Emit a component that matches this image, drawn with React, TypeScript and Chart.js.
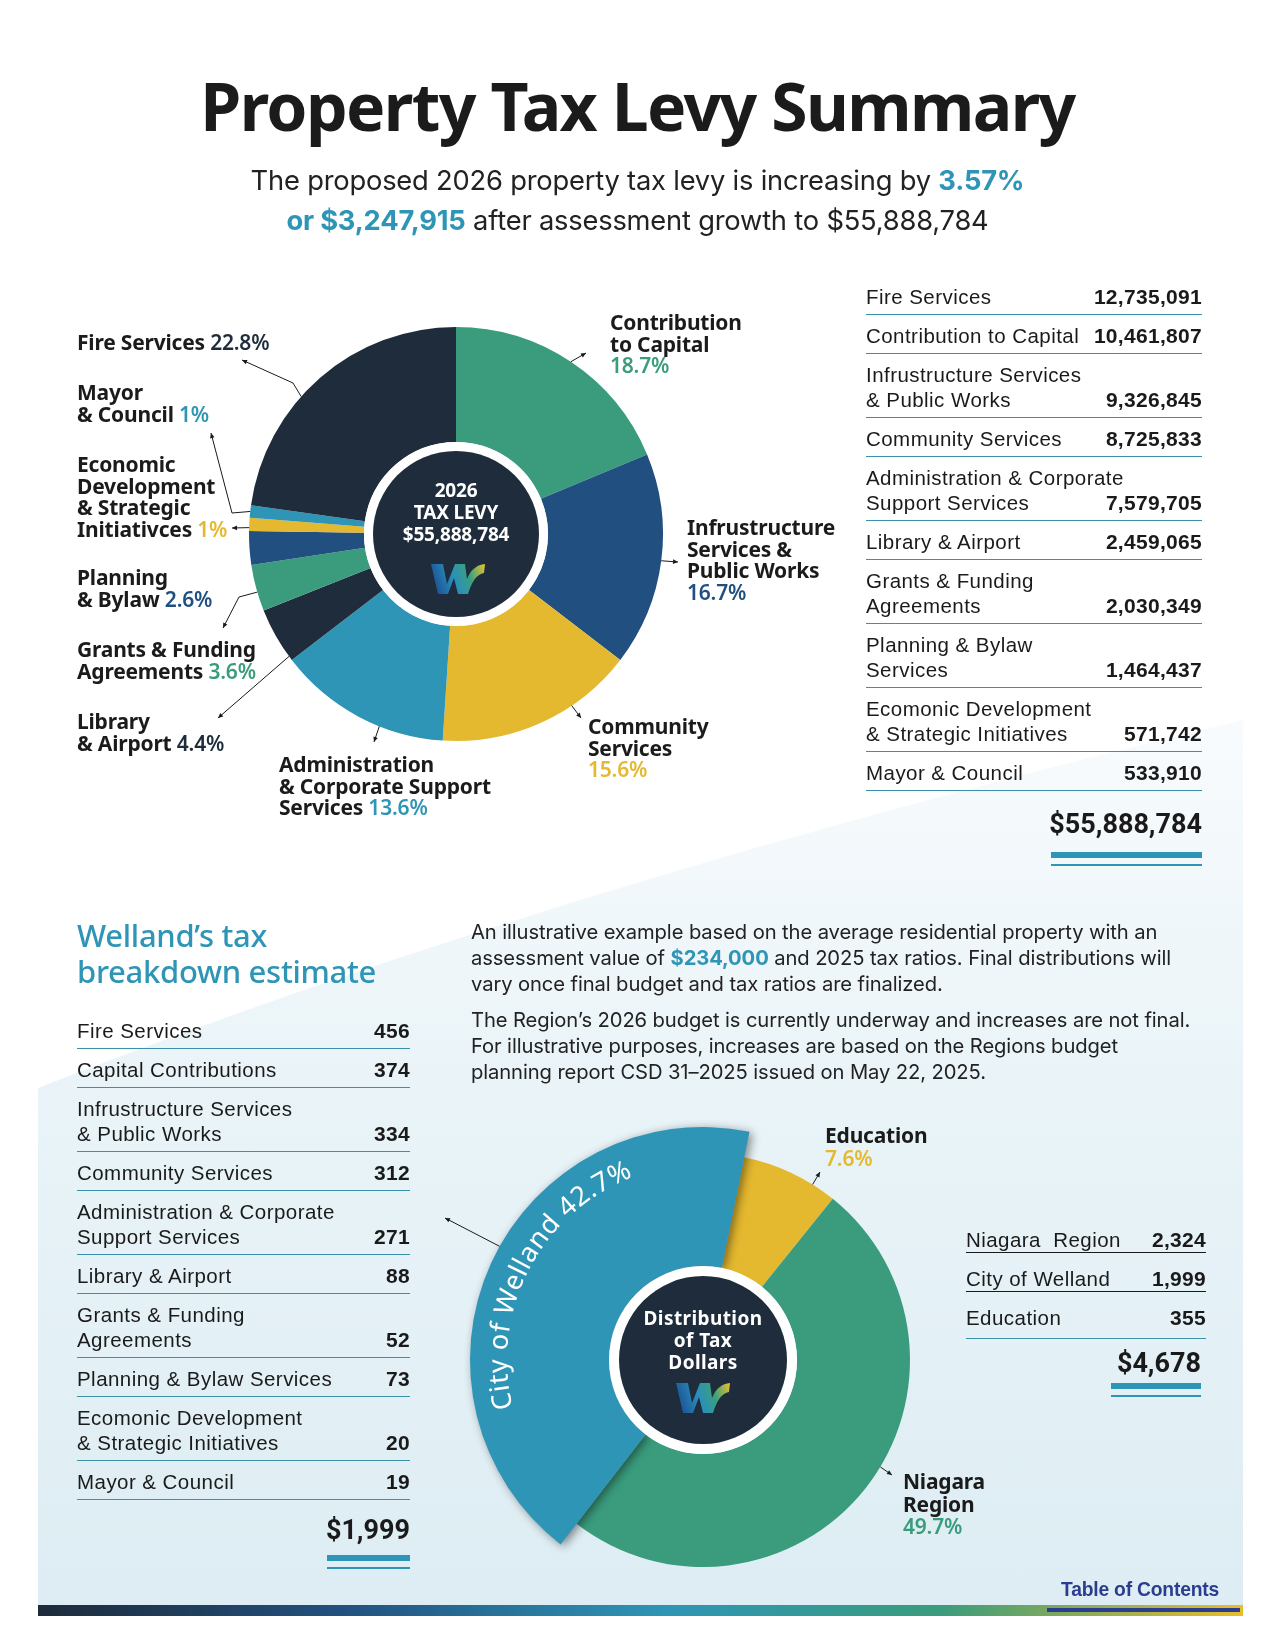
import React, { useEffect, useRef, useState } from "react";
import { Chart, registerables } from "chart.js";

Chart.register(...registerables);

// ---------------- data ----------------
const levyCategories = [
  "Contribution to Capital",
  "Infrastructure Services & Public Works",
  "Community Services",
  "Administration & Corporate Support Services",
  "Library & Airport",
  "Grants & Funding Agreements",
  "Planning & Bylaw",
  "Economic Development & Strategic Initiatives",
  "Mayor & Council",
  "Fire Services",
];
const levyValues = [10461807, 9326845, 8725833, 7579705, 2459065, 2030349, 1464437, 571742, 533910, 12735091];
const levyLabelLines = [
  ["Contribution", "to Capital"],
  ["Infrustructure", "Services &", "Public Works"],
  ["Community", "Services"],
  ["Administration", "& Corporate Support", "Services"],
  ["Library", "& Airport"],
  ["Grants & Funding", "Agreements"],
  ["Planning", "& Bylaw"],
  ["Economic", "Development", "& Strategic", "Initiativces"],
  ["Mayor", "& Council"],
  ["Fire Services"],
];

const levyTableLabels = [
  ["Fire Services"],
  ["Contribution to Capital"],
  ["Infrustructure Services", "& Public Works"],
  ["Community Services"],
  ["Administration & Corporate", "Support Services"],
  ["Library & Airport"],
  ["Grants & Funding", "Agreements"],
  ["Planning & Bylaw", "Services"],
  ["Ecomonic Development", "& Strategic Initiatives"],
  ["Mayor & Council"],
];
const levyTableValues = [12735091, 10461807, 9326845, 8725833, 7579705, 2459065, 2030349, 1464437, 571742, 533910];

const breakdownLabels = [
  ["Fire Services"],
  ["Capital Contributions"],
  ["Infrustructure Services", "& Public Works"],
  ["Community Services"],
  ["Administration & Corporate", "Support Services"],
  ["Library & Airport"],
  ["Grants & Funding", "Agreements"],
  ["Planning & Bylaw Services"],
  ["Ecomonic Development", "& Strategic Initiatives"],
  ["Mayor & Council"],
];
const breakdownValues = [456, 374, 334, 312, 271, 88, 52, 73, 20, 19];

const distCategories = ["Education", "Niagara Region", "City of Welland"];
const distValues = [355, 2324, 1999];
const distLabelLines = [["Education"], ["Niagara", "Region"], ["City of Welland"]];
const distTableLabels = ["Niagara\u00a0 Region", "City of Welland", "Education"];
const distTableValues = [2324, 1999, 355];

// ---------------- style / layout ----------------
const NAVY = "#1e2c3b";
const GREEN = "#3a9c7d";
const DBLUE = "#215080";
const YELLOW = "#e5b92f";
const TEAL = "#2f95b6";
const LINE = "#3a92aa";

const levyColors = [GREEN, DBLUE, YELLOW, TEAL, NAVY, GREEN, DBLUE, YELLOW, TEAL, NAVY];
const distColors = [YELLOW, GREEN, TEAL];

const W = 1275;
const H = 1650;
const TOP_C = { x: 456, y: 534, r: 207, ring: 92, core: 83 };
const BOT_C = { x: 703, y: 1360, r: 233, ring: 94, core: 84 };
const distRadii = [207, 207, 233];

const levyLabelLayout = [
  { left: 610, top: 312, inline: false },
  { left: 687, top: 517, inline: false },
  { left: 588, top: 716, inline: false },
  { left: 279, top: 754, inline: true },
  { left: 77, top: 711, inline: true },
  { left: 77, top: 639, inline: true },
  { left: 77, top: 567, inline: true },
  { left: 77, top: 454, inline: true },
  { left: 77, top: 382, inline: true },
  { left: 77, top: 332, inline: true },
];
const distLabelLayout = [
  { left: 825, top: 1124 },
  { left: 903, top: 1470 },
];

type Leader = { index: number; frac: number; pts: [number, number][] };
const levyLeaders: Leader[] = [
  { index: 0, frac: 0.5, pts: [[586, 353]] },
  { index: 1, frac: 0.5, pts: [[678, 562]] },
  { index: 2, frac: 0.33, pts: [[581, 718]] },
  { index: 3, frac: 0.37, pts: [[374, 742]] },
  { index: 4, frac: 0.08, pts: [[218, 718]] },
  { index: 5, frac: 0.41, pts: [[239, 597], [223, 628]] },
  { index: 7, frac: 0.25, pts: [[232, 528]] },
  { index: 8, frac: 0.5, pts: [[232, 513], [211, 433]] },
  { index: 9, frac: 0.41, pts: [[293, 383], [242, 360]] },
];
const distLeaders: Leader[] = [
  { index: 0, frac: 0.75, pts: [[820, 1172]] },
  { index: 1, frac: 0.46, pts: [[892, 1475]] },
  { index: 2, frac: 0.53, pts: [[445, 1218]] },
];

const sum = (a: number[]) => a.reduce((s, v) => s + v, 0);
const fmt = (n: number) => n.toLocaleString("en-US");
const fmtPct = (v: number, total: number) => {
  const r = Math.round((v / total) * 1000) / 10;
  return (Number.isInteger(r) ? r.toFixed(0) : r.toFixed(1)) + "%";
};

function overlayPlugin(id: string, ringR: number, coreR: number, leaders: Leader[], radii?: number[], shadowIndex?: number) {
  return {
    id,
    afterUpdate(chart: any) {
      if (!radii) return;
      const meta = chart.getDatasetMeta(0);
      meta.data.forEach((el: any, i: number) => {
        el.outerRadius = radii[i];
        if (i === shadowIndex && !el._shadowPatched) {
          const orig = el.draw.bind(el);
          el.draw = (ctx: CanvasRenderingContext2D, area: any) => {
            ctx.save();
            ctx.shadowColor = "rgba(0,0,0,0.45)";
            ctx.shadowBlur = 10;
            ctx.shadowOffsetX = 3;
            ctx.shadowOffsetY = 2;
            orig(ctx, area);
            ctx.restore();
          };
          el._shadowPatched = true;
        }
      });
    },
    afterDatasetsDraw(chart: any) {
      const ctx: CanvasRenderingContext2D = chart.ctx;
      const meta = chart.getDatasetMeta(0);
      const cx = meta.data[0].x;
      const cy = meta.data[0].y;
      ctx.save();
      ctx.fillStyle = "#ffffff";
      ctx.beginPath();
      ctx.arc(cx, cy, ringR, 0, Math.PI * 2);
      ctx.fill();
      ctx.fillStyle = NAVY;
      ctx.beginPath();
      ctx.arc(cx, cy, coreR, 0, Math.PI * 2);
      ctx.fill();
      ctx.strokeStyle = "#1a1a1a";
      ctx.fillStyle = "#1a1a1a";
      ctx.lineWidth = 1;
      leaders.forEach((ld) => {
        const el = meta.data[ld.index];
        const a = el.startAngle + (el.endAngle - el.startAngle) * ld.frac;
        const r = el.outerRadius;
        const sx = cx + r * Math.cos(a);
        const sy = cy + r * Math.sin(a);
        ctx.beginPath();
        ctx.moveTo(sx, sy);
        ld.pts.forEach((p) => ctx.lineTo(p[0], p[1]));
        ctx.stroke();
        const last = ld.pts[ld.pts.length - 1];
        const prev = ld.pts.length > 1 ? ld.pts[ld.pts.length - 2] : [sx, sy];
        const ang = Math.atan2(last[1] - prev[1], last[0] - prev[0]);
        const L = 5;
        const Wd = 2.3;
        ctx.beginPath();
        ctx.moveTo(last[0], last[1]);
        ctx.lineTo(last[0] - L * Math.cos(ang) + Wd * Math.sin(ang), last[1] - L * Math.sin(ang) - Wd * Math.cos(ang));
        ctx.lineTo(last[0] - L * Math.cos(ang) - Wd * Math.sin(ang), last[1] - L * Math.sin(ang) + Wd * Math.cos(ang));
        ctx.closePath();
        ctx.fill();
      });
      ctx.restore();
    },
  };
}

function Logo({ cx, cy, id }: { cx: number; cy: number; id: string }) {
  const w = 54;
  const h = 32;
  return (
    <svg style={{ position: "absolute", left: cx - w / 2, top: cy - h / 2 }} width={w} height={h} viewBox="0 0 54 32">
      <defs>
        <linearGradient id={id} x1="0" y1="0.2" x2="1" y2="0">
          <stop offset="0" stopColor="#1d5a9c" />
          <stop offset="0.35" stopColor="#2a8fba" />
          <stop offset="0.65" stopColor="#3aa080" />
          <stop offset="1" stopColor="#ecc22a" />
        </linearGradient>
      </defs>
      <path d="M0,1 L12,1 L16,21 L24,1 L34,1 L36,16 C40,6 46,2 54,1 L53,10 C46,11 41,18 37,31 L27,31 L23,15 L17,31 L7,31 Z" fill={`url(#${id})`} />
    </svg>
  );
}

type Row = { label: string[]; value: string; border?: string; padBottom?: number };
function ValueTable({ rows, left, top, width, padTop, padBottom, lineH }: { rows: Row[]; left: number; top: number; width: number; padTop: number; padBottom: number; lineH: number }) {
  return (
    <div style={{ position: "absolute", left, top, width }}>
      {rows.map((r, i) => (
        <div
          key={i}
          style={{
            display: "flex",
            justifyContent: "space-between",
            alignItems: "flex-end",
            paddingTop: padTop,
            paddingBottom: r.padBottom ?? padBottom,
            borderBottom: `1.5px solid ${r.border ?? LINE}`,
            lineHeight: `${lineH}px`,
          }}
        >
          <div style={{ flex: "1 1 0", minWidth: 0, fontFamily: '"Liberation Sans", Arial, sans-serif', fontSize: 20.5, letterSpacing: 0.45, color: "#1a1a1a", whiteSpace: "nowrap" }}>
            {r.label.map((l, j) => (
              <div key={j}>{l}</div>
            ))}
          </div>
          <div style={{ flexShrink: 0, fontFamily: '"Liberation Sans", Arial, sans-serif', fontWeight: 700, fontSize: 21, letterSpacing: 0.3, color: "#1a1a1a", whiteSpace: "nowrap" }}>{r.value}</div>
        </div>
      ))}
    </div>
  );
}

function Total({ text, right, cy, barTop, barW }: { text: string; right: number; cy: number; barTop: number; barW: number }) {
  return (
    <>
      <div style={{ position: "absolute", right: W - right, top: cy - 18, lineHeight: "36px", fontFamily: "Roboto, sans-serif", fontWeight: 700, fontSize: 27, color: "#1a1a1a", whiteSpace: "nowrap" }}>{text}</div>
      <div style={{ position: "absolute", left: right - barW, top: barTop, width: barW, height: 6, background: TEAL }} />
      <div style={{ position: "absolute", left: right - barW, top: barTop + 12, width: barW, height: 1.5, background: TEAL }} />
    </>
  );
}

const labelFont: React.CSSProperties = {
  fontFamily: '"Noto Sans", sans-serif',
  fontWeight: 700,
  fontSize: 21,
  lineHeight: "21.7px",
  color: "#1b1b1b",
  whiteSpace: "nowrap",
  position: "absolute",
  letterSpacing: -0.2,
};

export default function App() {
  const topRef = useRef<HTMLCanvasElement | null>(null);
  const botRef = useRef<HTMLCanvasElement | null>(null);
  const [arcGeo, setArcGeo] = useState<{ x: number; y: number; s: number; e: number; r: number } | null>(null);

  const levyTotal = sum(levyValues);
  const distTotal = sum(distValues);

  useEffect(() => {
    document.body.style.margin = "0";
    const top = new Chart(topRef.current as HTMLCanvasElement, {
      type: "doughnut",
      data: {
        labels: levyCategories,
        datasets: [{ data: levyValues, backgroundColor: levyColors, borderWidth: 0 }],
      },
      options: {
        animation: false,
        responsive: false,
        maintainAspectRatio: false,
        events: [],
        radius: TOP_C.r,
        cutout: `${(TOP_C.ring / TOP_C.r) * 100}%`,
        rotation: 0,
        layout: { padding: { left: 0, top: 0, right: W - 2 * TOP_C.x, bottom: H - 2 * TOP_C.y } },
        plugins: { legend: { display: false }, tooltip: { enabled: false } },
      } as any,
      plugins: [overlayPlugin("topOverlay", TOP_C.ring, TOP_C.core, levyLeaders) as any],
    });
    const bot = new Chart(botRef.current as HTMLCanvasElement, {
      type: "doughnut",
      data: {
        labels: distCategories,
        datasets: [{ data: distValues, backgroundColor: distColors, borderWidth: 0 }],
      },
      options: {
        animation: false,
        responsive: false,
        maintainAspectRatio: false,
        events: [],
        radius: BOT_C.r,
        cutout: `${(BOT_C.ring / BOT_C.r) * 100}%`,
        rotation: 11.5,
        layout: { padding: { left: 2 * BOT_C.x - W, top: 2 * BOT_C.y - H, right: 0, bottom: 0 } },
        plugins: { legend: { display: false }, tooltip: { enabled: false } },
      } as any,
      plugins: [overlayPlugin("botOverlay", BOT_C.ring, BOT_C.core, distLeaders, distRadii, 2) as any],
    });
    const el: any = bot.getDatasetMeta(0).data[2];
    setArcGeo({ x: el.x, y: el.y, s: el.startAngle, e: el.endAngle, r: el.outerRadius });
    return () => {
      top.destroy();
      bot.destroy();
    };
  }, []);

  let arcPath = "";
  if (arcGeo) {
    const mid = (arcGeo.s + arcGeo.e) / 2 + (3 * Math.PI) / 180;
    const rr = arcGeo.r - 37;
    const a0 = mid - Math.PI / 3;
    const a1 = mid + Math.PI / 3;
    const p0 = [arcGeo.x + rr * Math.cos(a0), arcGeo.y + rr * Math.sin(a0)];
    const p1 = [arcGeo.x + rr * Math.cos(a1), arcGeo.y + rr * Math.sin(a1)];
    arcPath = `M${p0[0]},${p0[1]} A${rr},${rr} 0 0 1 ${p1[0]},${p1[1]}`;
  }

  const levyRows: Row[] = levyTableLabels.map((l, i) => ({ label: l, value: fmt(levyTableValues[i]) }));
  const breakdownRows: Row[] = breakdownLabels.map((l, i) => ({ label: l, value: fmt(breakdownValues[i]) }));
  const distRows: Row[] = distTableLabels.map((l, i) => ({
    label: [l],
    value: fmt(distTableValues[i]),
    border: i < 2 ? "#1a1a1a" : LINE,
    padBottom: i < 2 ? 0 : 8,
  }));

  const para: React.CSSProperties = { fontFamily: "Inter, sans-serif", fontSize: 20.2, lineHeight: "25.8px", color: "#222", whiteSpace: "nowrap", letterSpacing: -0.1 };
  const teal: React.CSSProperties = { color: TEAL, fontWeight: 700 };

  return (
    <div style={{ position: "relative", width: W, height: H, overflow: "hidden", background: "#ffffff" }}>
      <svg style={{ position: "absolute", left: 0, top: 0 }} width={W} height={H}>
        <defs>
          <linearGradient id="bgGrad" x1="0" y1="0" x2="0" y2="1">
            <stop offset="0" stopColor="#f8fbfd" />
            <stop offset="0.4" stopColor="#eaf4f8" />
            <stop offset="1" stopColor="#ddedf3" />
          </linearGradient>
          <linearGradient id="barGrad" x1="0" y1="0" x2="1" y2="0">
            <stop offset="0" stopColor="#1d2b3a" />
            <stop offset="0.25" stopColor="#22507e" />
            <stop offset="0.52" stopColor="#2e95b5" />
            <stop offset="0.75" stopColor="#3a9c7c" />
            <stop offset="1" stopColor="#e8bd2c" />
          </linearGradient>
        </defs>
        <path d="M38,1088 C300,985 700,850 1243,720 L1243,1605 L38,1605 Z" fill="url(#bgGrad)" />
        <rect x={38} y={1605} width={1205} height={11} fill="url(#barGrad)" />
        <rect x={1047} y={1608} width={193} height={4} fill="#2b3d8f" />
      </svg>

      <canvas ref={topRef} width={W} height={H} style={{ position: "absolute", left: 0, top: 0, width: W, height: H }} />
      <canvas ref={botRef} width={W} height={H} style={{ position: "absolute", left: 0, top: 0, width: W, height: H }} />

      {arcGeo && (
        <svg style={{ position: "absolute", left: 0, top: 0, pointerEvents: "none" }} width={W} height={H}>
          <defs>
            <path id="wellandArc" d={arcPath} />
          </defs>
          <text fill="#ffffff" fontFamily="'Noto Sans', sans-serif" fontSize={27} letterSpacing={0.6}>
            <textPath href="#wellandArc" startOffset="50%" textAnchor="middle">
              {`${distCategories[2]} ${fmtPct(distValues[2], distTotal)}`}
            </textPath>
          </text>
        </svg>
      )}

      {/* Title */}
      <div style={{ position: "absolute", left: 0, width: W, top: 65, lineHeight: "80px", textAlign: "center", fontFamily: '"Noto Sans", sans-serif', fontWeight: 700, fontSize: 66, letterSpacing: -1.6, color: "#1b1b1b" }}>
        Property Tax Levy Summary
      </div>
      <div style={{ position: "absolute", left: 0, width: W, top: 161, lineHeight: "39.5px", textAlign: "center", fontFamily: "Inter, sans-serif", fontSize: 27.3, color: "#222", letterSpacing: -0.2 }}>
        <div>
          The proposed 2026 property tax levy is increasing by <span style={teal}>3.57%</span>
        </div>
        <div>
          <span style={teal}>or $3,247,915</span> after assessment growth to $55,888,784
        </div>
      </div>

      {/* Top donut labels */}
      {levyLabelLines.map((lines, i) => {
        const lay = levyLabelLayout[i];
        const pct = fmtPct(levyValues[i], levyTotal);
        const pctSpan = <span style={{ color: levyColors[i], fontWeight: 600 }}>{pct}</span>;
        return (
          <div key={i} style={{ ...labelFont, left: lay.left, top: lay.top }}>
            {lines.map((l, j) => (
              <div key={j}>
                {l}
                {lay.inline && j === lines.length - 1 ? <> {pctSpan}</> : null}
              </div>
            ))}
            {!lay.inline && <div>{pctSpan}</div>}
          </div>
        );
      })}

      {/* Top donut center */}
      <div style={{ position: "absolute", left: TOP_C.x - 80, width: 160, top: TOP_C.y - 55, textAlign: "center", fontFamily: '"Noto Sans", sans-serif', fontWeight: 700, fontSize: 19, lineHeight: "22px", color: "#fff", letterSpacing: -0.2 }}>
        <div>2026</div>
        <div>TAX LEVY</div>
        <div>${fmt(levyTotal)}</div>
      </div>
      <Logo cx={TOP_C.x + 2} cy={TOP_C.y + 45} id="logoTop" />

      {/* Top table */}
      <ValueTable rows={levyRows} left={866} top={276} width={336} padTop={8} padBottom={5} lineH={25} />
      <Total text={`$${fmt(sum(levyTableValues))}`} right={1202} cy={824} barTop={852} barW={151} />

      {/* Breakdown heading + paragraphs */}
      <div style={{ position: "absolute", left: 77, top: 917, fontFamily: '"Noto Sans", sans-serif', fontWeight: 500, fontSize: 31, lineHeight: "36px", color: TEAL, letterSpacing: -0.3 }}>
        <div>Welland’s tax</div>
        <div>breakdown estimate</div>
      </div>
      <div style={{ position: "absolute", left: 471, top: 919, ...para }}>
        <div>An illustrative example based on the average residential property with an</div>
        <div>
          assessment value of <span style={teal}>$234,000</span> and 2025 tax ratios. Final distributions will
        </div>
        <div>vary once final budget and tax ratios are finalized.</div>
      </div>
      <div style={{ position: "absolute", left: 471, top: 1007, ...para }}>
        <div>The Region’s 2026 budget is currently underway and increases are not final.</div>
        <div>For illustrative purposes, increases are based on the Regions budget</div>
        <div>planning report CSD 31–2025 issued on May 22, 2025.</div>
      </div>

      {/* Breakdown table */}
      <ValueTable rows={breakdownRows} left={77} top={1010} width={333} padTop={8} padBottom={5} lineH={25} />
      <Total text={`$${fmt(sum(breakdownValues))}`} right={410} cy={1530} barTop={1555} barW={83} />

      {/* Bottom donut labels */}
      {distLabelLayout.map((lay, i) => (
        <div key={i} style={{ ...labelFont, left: lay.left, top: lay.top, lineHeight: "22.5px" }}>
          {distLabelLines[i].map((l, j) => (
            <div key={j}>{l}</div>
          ))}
          <div style={{ color: distColors[i], fontWeight: 600 }}>{fmtPct(distValues[i], distTotal)}</div>
        </div>
      ))}
      <div style={{ position: "absolute", left: BOT_C.x - 80, width: 160, top: BOT_C.y - 53, textAlign: "center", fontFamily: '"Noto Sans", sans-serif', fontWeight: 700, fontSize: 19, lineHeight: "22px", color: "#fff", letterSpacing: 0.4 }}>
        <div>Distribution</div>
        <div>of Tax</div>
        <div>Dollars</div>
      </div>
      <Logo cx={BOT_C.x} cy={BOT_C.y + 38} id="logoBot" />

      {/* Distribution table */}
      <ValueTable rows={distRows} left={966} top={1214} width={240} padTop={13} padBottom={0} lineH={25} />
      <Total text={`$${fmt(distTotal)}`} right={1201} cy={1363} barTop={1383} barW={90} />

      {/* Footer */}
      <div style={{ position: "absolute", right: W - 1219, top: 1577, lineHeight: "26px", fontFamily: '"Liberation Sans", Arial, sans-serif', fontWeight: 700, fontSize: 19.3, color: "#2b3d8f", letterSpacing: -0.2 }}>
        Table of Contents
      </div>
    </div>
  );
}
